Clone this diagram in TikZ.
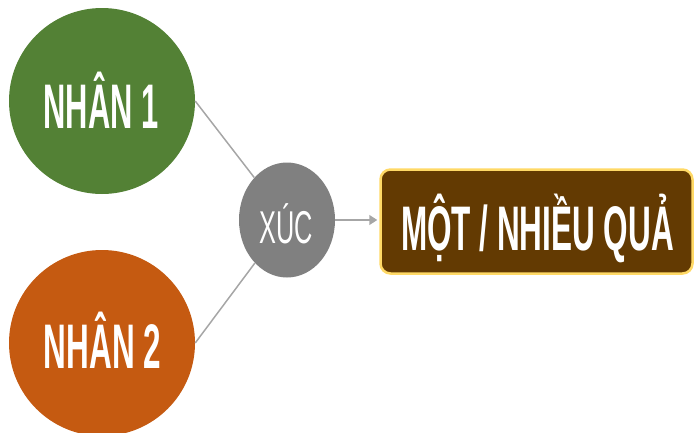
\documentclass[tikz,border=0pt]{standalone}
\usepackage{fontspec}
\setmainfont{Liberation Sans}
\usepackage{graphicx}
\usetikzlibrary{arrows.meta,shapes.geometric}

\definecolor{greenA}{HTML}{538135}
\definecolor{orangeA}{HTML}{C55A11}
\definecolor{greyA}{HTML}{808080}
\definecolor{brownA}{HTML}{633A02}
\definecolor{goldA}{HTML}{FFD966}
\definecolor{linkA}{HTML}{A6A6A6}

% horizontally condensed text
\newcommand{\narrowtxt}[2]{\scalebox{#1}[1]{#2}}

\begin{document}
\begin{tikzpicture}[x=1pt,y=-1pt,
  cause/.style={circle,minimum size=186pt,inner sep=0pt},
  hub/.style={ellipse,fill=greyA,minimum width=96pt,minimum height=115pt,inner sep=0pt},
  result/.style={rectangle,rounded corners=10pt,fill=brownA,draw=goldA,line width=2.5pt,
                 minimum width=312pt,minimum height=104pt},
  label/.style={text=white,anchor=base,inner sep=0pt},
  link/.style={draw=linkA,line width=1.5pt}]
\useasboundingbox (0,0) rectangle (694,432);

\node[cause,fill=greenA] (n1) at (102,101) {};
\node[cause,fill=orangeA] (n2) at (102,343) {};
\node[hub] (xuc) at (287,220) {};
\node[result] (res) at (536.5,221.5) {};

\draw[link] (n1.east) -- (xuc);
\draw[link] (n2.east) -- (xuc);
\draw[link,-{Triangle[length=8pt,width=10pt]},shorten >=2pt] (xuc.east) -- (res.west |- xuc.east);

\node[label,font=\bfseries\fontsize{63}{63}\selectfont] (t1) at (101,128) {\narrowtxt{0.49}{NHÂN 1}};
\node[label,font=\bfseries\fontsize{63}{63}\selectfont] (t2) at (102.5,368) {\narrowtxt{0.50}{NHÂN 2}};
\node[label,font=\fontsize{46}{46}\selectfont] (t3) at (286.5,243) {\narrowtxt{0.55}{XÚC}};
\node[label,font=\bfseries\fontsize{63}{63}\selectfont] (t4) at (537.5,250) {\narrowtxt{0.50}{MỘT / NHIỀU QUẢ}};
\end{tikzpicture}
\end{document}
